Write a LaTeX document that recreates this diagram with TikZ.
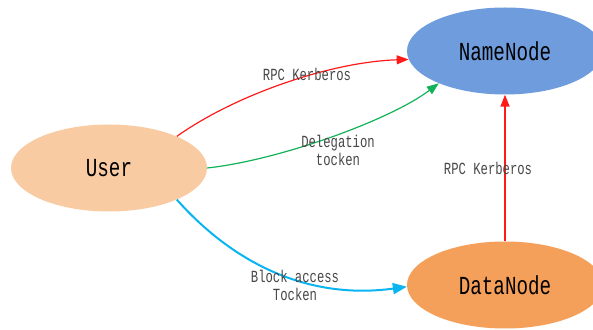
\documentclass[tikz,border=0pt]{standalone}
\usepackage{fontspec}
\usepackage{tikz}
\usetikzlibrary{shapes.geometric,arrows.meta}
\newfontfamily\nodefont[FakeStretch=0.74]{Liberation Mono}
\newfontfamily\lblfont[FakeStretch=0.72]{Liberation Mono}
\definecolor{usrFill}{HTML}{F8CBA2}
\definecolor{nnFill}{HTML}{6F9CDC}
\definecolor{dnFill}{HTML}{F4A05A}
\definecolor{krbRed}{HTML}{FF1A1A}
\definecolor{dtGreen}{HTML}{12B25A}
\definecolor{blkBlue}{HTML}{0AB4F0}
\begin{document}
\begin{tikzpicture}[
  x=1pt,y=1pt,
  ent/.style={ellipse,draw=none,minimum width=196pt,minimum height=87pt,
              inner sep=0pt,font=\nodefont\fontsize{26}{28}\selectfont},
  lbl/.style={font=\lblfont\fontsize{17}{18}\selectfont,text=black!72,
              align=center,inner sep=0pt},
  tip/.style={-{Triangle[length=12pt,width=9pt]}},
  krb/.style={tip,krbRed,line width=1.2pt},
  dlg/.style={tip,dtGreen,line width=1.2pt},
  blk/.style={-{Triangle[length=14pt,width=11pt]},blkBlue,line width=2pt}
]
\useasboundingbox (0,0) rectangle (593,329);
\clip (0,0) rectangle (593,329);

\node[ent,fill=usrFill] (user)     at (109,161) {User};
\node[ent,fill=nnFill]  (namenode) at (505,278) {NameNode};
\node[ent,fill=dnFill]  (datanode) at (505,44)  {DataNode};

% user -> namenode
\draw[krb] (user.25) .. controls (235,234) and (330,267) .. (namenode.185);
\draw[dlg] (user.0) .. controls (280,169) and (390,209) .. (namenode.206);
% user -> datanode
\draw[blk] (user.-25) .. controls (235,64) and (310,29) .. (datanode.181);
% datanode -> namenode
\draw[krb,line width=1.5pt] (datanode.north) -- (namenode.south);

\node[lbl] (l1) at (307,255) {RPC Kerberos};
\node[lbl] (l2) at (338,179) {Delegation\\tocken};
\node[lbl] (l3) at (295,44)  {Block access\\Tocken};
\node[lbl] (l4) at (488,161) {RPC Kerberos};
\end{tikzpicture}
\end{document}
